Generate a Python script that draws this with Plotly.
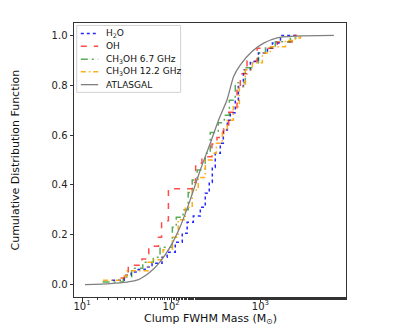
import plotly.graph_objects as go

# clump masses (Msun) and cumulative fraction
h2o_mass = [21.7, 29.7, 35.6, 42.6, 51, 61, 79, 90, 111, 133, 151, 177, 212, 241,
            267, 289, 312, 355, 384, 426, 460, 523, 566, 645, 772, 950, 1200, 1365, 1680, 2600]
h2o_cdf = [0.017, 0.037, 0.05, 0.06, 0.07, 0.085, 0.11, 0.13, 0.17, 0.206, 0.25, 0.275, 0.31, 0.367,
           0.41, 0.47, 0.527, 0.567, 0.62, 0.66, 0.69, 0.74, 0.795, 0.862, 0.895, 0.93, 0.95, 0.97, 1.0, 1.0]

oh_mass = [27, 30, 33, 47, 56, 72, 78, 93, 172, 188, 221, 286, 326, 387, 441, 547,
           596, 708, 918, 1550, 2270, 2600]
oh_cdf = [0.026, 0.051, 0.077, 0.103, 0.154, 0.19, 0.256, 0.385, 0.41, 0.487, 0.513, 0.564,
          0.59, 0.641, 0.692, 0.795, 0.846, 0.897, 0.949, 0.974, 1.0, 1.0]

m67_mass = [17, 29, 36, 48, 63, 75, 103, 114, 136, 155, 172, 196, 241, 274, 337, 394,
            449, 523, 678, 813, 950, 1140, 1470, 2170, 2540]
m67_cdf = [0.01, 0.03, 0.065, 0.09, 0.11, 0.15, 0.23, 0.27, 0.30, 0.37, 0.42, 0.46, 0.527, 0.61,
           0.65, 0.68, 0.74, 0.81, 0.87, 0.89, 0.93, 0.95, 0.975, 0.99, 1.0]

m122_mass = [17.2, 28, 32, 55, 61, 81, 103, 120, 144, 172, 201, 241, 289, 321, 374, 426,
             497, 581, 678, 813, 1052, 1294, 1909, 2472, 2813]
m122_cdf = [0.017, 0.035, 0.055, 0.09, 0.1, 0.14, 0.19, 0.26, 0.31, 0.38, 0.43, 0.50, 0.527,
            0.567, 0.62, 0.66, 0.714, 0.795, 0.862, 0.89, 0.93, 0.955, 0.98, 0.99, 1.0]

atlas_mass = [10.8, 20.7, 31.8, 43, 58, 75, 97.5, 126, 163, 212, 274, 340, 422, 501,
              596, 805, 1090, 1540, 2370, 6670]
atlas_cdf = [0.0, 0.004, 0.01, 0.02, 0.05, 0.091, 0.151, 0.232, 0.339, 0.46, 0.567, 0.661,
             0.741, 0.835, 0.882, 0.936, 0.969, 0.99, 0.997, 1.0]

series_names = ["H<sub>2</sub>O", "OH", "CH<sub>3</sub>OH 6.7 GHz", "CH<sub>3</sub>OH 12.2 GHz", "ATLASGAL"]

styles = [
    dict(color="rgba(0,0,255,0.85)", width=1.5, dash="dot", shape="hv"),
    dict(color="rgba(255,0,0,0.7)", width=1.5, dash="6px,7px", shape="hv"),
    dict(color="rgba(0,128,0,0.65)", width=1.5, dash="7px,4px,2px,4px", shape="hv"),
    dict(color="rgba(255,165,0,0.9)", width=1.5, dash="5px,3px,1.5px,3px", shape="hv"),
    dict(color="gray", width=1.3, shape="spline", smoothing=0.6),
]

fig = go.Figure()
series = [(h2o_mass, h2o_cdf), (oh_mass, oh_cdf), (m67_mass, m67_cdf),
          (m122_mass, m122_cdf), (atlas_mass, atlas_cdf)]
for (xs, ys), name, st in zip(series, series_names, styles):
    fig.add_trace(go.Scatter(x=xs, y=ys, name=name, mode="lines", line=st, showlegend=False))

# compact legend drawn by hand (plotly's legend rows are too tall)
fig.add_shape(type="rect", xref="paper", yref="paper", x0=0.01, x1=0.392, y0=0.747, y1=0.991,
              line=dict(color="#d0d0d0", width=1), fillcolor="rgba(255,255,255,0.85)", layer="above")
leg_y = [0.962, 0.915, 0.868, 0.822, 0.775]
for name, st, yy in zip(series_names, styles, leg_y):
    ln = dict(color=st["color"], width=st["width"])
    if "dash" in st:
        ln["dash"] = st["dash"]
    fig.add_shape(type="line", xref="paper", yref="paper", x0=0.025, x1=0.089, y0=yy, y1=yy,
                  line=ln, layer="above")
    fig.add_annotation(text=name, xref="paper", yref="paper", x=0.112, y=yy, xanchor="left",
                       yanchor="middle", showarrow=False, font=dict(size=9, color="#111"))

# axis titles
fig.add_annotation(text="Clump FWHM Mass (M<sub>⊙</sub>)", xref="paper", yref="paper",
                   x=0.5, y=0, xanchor="center", yanchor="top", yshift=-13, showarrow=False,
                   font=dict(size=11, color="#111"))
fig.add_annotation(text="Cumulative Distribution Function", xref="paper", yref="paper",
                   x=0, y=0.5, xanchor="right", yanchor="middle", xshift=-51, textangle=-90,
                   showarrow=False, font=dict(size=11, color="#111"))

axis_common = dict(showline=True, linecolor="#333", linewidth=1, mirror=True,
                   ticks="outside", ticklen=3.5, tickcolor="#333", showgrid=False,
                   zeroline=False, tickfont=dict(size=10, color="#222"), automargin=False)

fig.update_xaxes(type="log", range=[0.91, 3.96], tickvals=[10, 100, 1000],
                 ticktext=["10<sup>1</sup>", "10<sup>2</sup>", "10<sup>3</sup>"],
                 minor=dict(ticks="outside", ticklen=2, tickcolor="#333"),
                 ticklabelstandoff=-4, **axis_common)
fig.update_yaxes(range=[-0.05, 1.05], tickvals=[0, 0.2, 0.4, 0.6, 0.8, 1.0],
                 ticktext=["0.0", "0.2", "0.4", "0.6", "0.8", "1.0"],
                 **axis_common)

# page body has an 8px margin, so the figure is sized/offset to land where the reference is
fig.update_layout(
    width=391, height=322,
    margin=dict(l=66, r=53, t=15, b=33),
    plot_bgcolor="white", paper_bgcolor="white",
    font=dict(family="DejaVu Sans", size=10, color="#222"),
    showlegend=False,
)

fig.write_html("out.html")
